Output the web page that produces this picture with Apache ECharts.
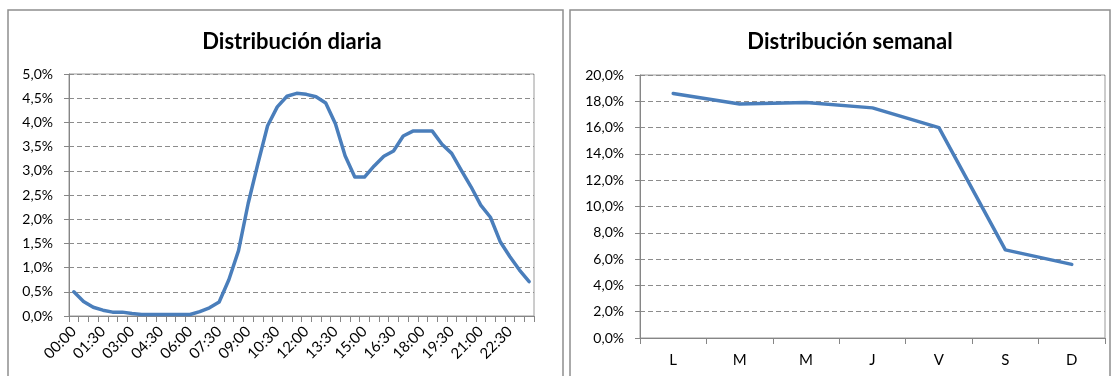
<!DOCTYPE html>
<html>
<head>
<meta charset="utf-8">
<script src="https://cdn.jsdelivr.net/npm/echarts@6/dist/echarts.min.js"></script>
<style>
  html, body { margin: 0; padding: 0; background: #fff; }
  #chart { width: 1113px; height: 376px; }
</style>
</head>
<body>
<div id="chart"></div>
<script>
// Half-hour slots of the day
const horas = [];
for (let h = 0; h < 24; h++) {
  const hh = String(h).padStart(2, '0');
  horas.push(hh + ':00', hh + ':30');
}
// Share of traffic per half hour (%)
const diaria = [
  0.50, 0.30, 0.18, 0.12, 0.08, 0.08, 0.05, 0.03, 0.03, 0.03, 0.03, 0.03,
  0.03, 0.09, 0.17, 0.29, 0.75, 1.35, 2.33, 3.15, 3.93, 4.32, 4.54, 4.60,
  4.58, 4.53, 4.40, 3.97, 3.31, 2.87, 2.87, 3.10, 3.30, 3.41, 3.72, 3.82,
  3.82, 3.82, 3.55, 3.36, 3.01, 2.67, 2.29, 2.04, 1.54, 1.23, 0.95, 0.71
];
// Days of the week
const dias = ['L', 'M', 'M', 'J', 'V', 'S', 'D'];
// Share of traffic per weekday (%)
const semanal = [18.6, 17.8, 17.9, 17.5, 16.0, 6.7, 5.6];

const FONT = 'Lato, "Liberation Sans", sans-serif';
const AXIS_GREY = '#868686';
const LINE_BLUE = '#4a7ebb';

const pct = v => v.toFixed(1).replace('.', ',') + '%';

const grids = [
  { left: 69, top: 74, width: 465, height: 242, show: true, borderColor: '#9a9a9a', borderWidth: 1 },
  { left: 640, top: 75, width: 465, height: 263, show: true, borderColor: '#9a9a9a', borderWidth: 1 }
];

function yAxis(gi, max, interval) {
  return {
    type: 'value', gridIndex: gi, min: 0, max: max, interval: interval,
    axisLine: { show: true, lineStyle: { color: AXIS_GREY, width: 1 } },
    axisTick: { show: true, length: 5, lineStyle: { color: AXIS_GREY } },
    axisLabel: { formatter: pct, color: '#000', fontFamily: FONT, fontSize: 14, margin: 16 },
    splitLine: { show: true, lineStyle: { color: '#8c8c8c', type: [5, 3], width: 1 } }
  };
}

const titleStyle = { fontFamily: FONT, fontWeight: 'bold', fontSize: 22, color: '#000' };

const chart = echarts.init(document.getElementById('chart'), null, { renderer: 'canvas' });
chart.setOption({
  animation: false,
  backgroundColor: '#fff',
  graphic: [
    { type: 'rect', shape: { x: 8, y: 10, width: 555, height: 380 },
      style: { fill: 'none', stroke: '#8f8f8f', lineWidth: 1.5 }, z: -1 },
    { type: 'rect', shape: { x: 570, y: 10, width: 540, height: 380 },
      style: { fill: 'none', stroke: '#8f8f8f', lineWidth: 1.5 }, z: -1 }
  ],
  title: [
    { text: 'Distribución diaria', left: 287, top: 26, textAlign: 'center', textStyle: titleStyle },
    { text: 'Distribución semanal', left: 845, top: 26, textAlign: 'center', textStyle: titleStyle }
  ],
  grid: grids,
  xAxis: [
    {
      type: 'category', gridIndex: 0, data: horas, boundaryGap: true,
      axisLine: { lineStyle: { color: AXIS_GREY } },
      axisTick: { show: true, interval: 0, length: 6, lineStyle: { color: AXIS_GREY } },
      axisLabel: { interval: 2, rotate: 45, color: '#000', fontFamily: FONT, fontSize: 15, margin: 13 },
      splitLine: { show: false }
    },
    {
      type: 'category', gridIndex: 1, data: dias, boundaryGap: true,
      axisLine: { lineStyle: { color: AXIS_GREY } },
      axisTick: { show: true, interval: 0, length: 6, lineStyle: { color: AXIS_GREY } },
      axisLabel: { interval: 0, color: '#000', fontFamily: FONT, fontSize: 15, margin: 15 },
      splitLine: { show: false }
    }
  ],
  yAxis: [yAxis(0, 5, 0.5), yAxis(1, 20, 2)],
  series: [
    { type: 'line', xAxisIndex: 0, yAxisIndex: 0, data: diaria, showSymbol: false,
      lineStyle: { color: LINE_BLUE, width: 3.5, join: 'round', cap: 'round' } },
    { type: 'line', xAxisIndex: 1, yAxisIndex: 1, data: semanal, showSymbol: false,
      lineStyle: { color: LINE_BLUE, width: 3.5, join: 'round', cap: 'round' } }
  ]
});
</script>
</body>
</html>
